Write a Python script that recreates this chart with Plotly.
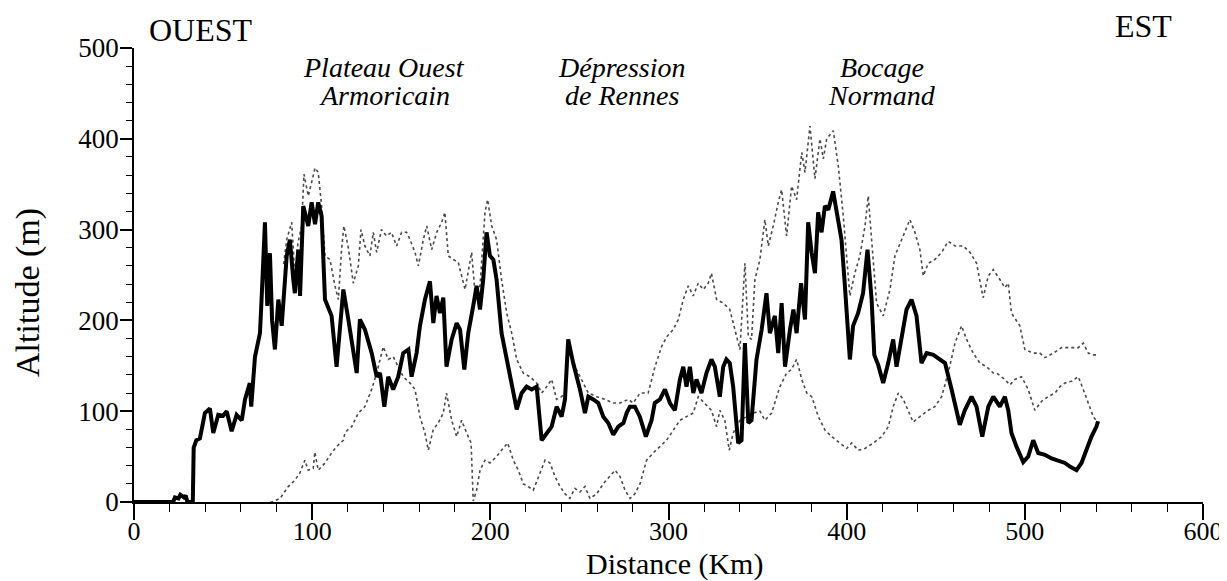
import plotly.graph_objects as go

# profil principal (trait épais)
main_km = [0, 20, 22, 23, 25, 26, 28, 29, 30, 33, 33.5, 35, 37, 39.8, 42.6, 44.5, 47.3, 50, 52, 54.8,
           57.6, 60.5, 62.3, 65, 65.8, 67.9, 70.7, 71.6, 73.5, 74.8, 76.3, 77.5, 79.1, 81, 82.9, 85.7,
           87.5, 89.4, 90.3, 92.2, 93.2, 95, 97.8, 99.7, 101.6, 103.4, 105.3, 107.2, 110.9, 113.7,
           115.6, 117.5, 120.3, 123.1, 125, 126.8, 129.6, 133.4, 136.2, 138.1, 140.5, 142.7, 145.5,
           148.3, 151.1, 154, 155.8, 158.6, 160.5, 163.3, 166.1, 168, 169.8, 171.7, 173.6, 175.4,
           178.3, 181.1, 183, 185.4, 187.6, 190.4, 192.3, 194.2, 196, 197.9, 199.8, 201.7, 203.5,
           206.3, 209.1, 212, 214.8, 217.6, 220.4, 223.2, 226, 228.8, 231.6, 234.4, 237.2, 240,
           241.9, 243.7, 246.5, 250.3, 253.1, 255, 257.8, 260.6, 263.4, 266.2, 269, 271.8, 274.7,
           276.5, 278.3, 281.1, 283.9, 287.3, 290.5, 292.3, 295.2, 298, 300.8, 303.6, 306.4, 308.3,
           310.1, 312, 313.9, 315.7, 318.5, 321.3, 324.1, 326, 328.8, 330.7, 332.5, 334.4, 336.3,
           339.1, 341, 342.9, 344.8, 346.6, 349.4, 352.3, 355, 356.9, 359.7, 361.6, 363.5, 365.4,
           368.2, 370.1, 371.9, 374.4, 376.6, 378.4, 380.3, 382.2, 384, 385.9, 387.8, 389.7, 392.4,
           394.3, 397.1, 398.9, 401.8, 403.6, 406.4, 409.2, 411.7, 414, 415.5, 417.7, 420.5, 423.3,
           426.1, 428, 430.8, 433.6, 436.4, 439.2, 442, 444.9, 448.6, 452.3, 455.2, 458.9, 463.5,
           466.3, 470.1, 472.9, 476.1, 479.5, 482.3, 486, 488.8, 490.7, 492.5, 495.3, 499.1, 501.9,
           504.7, 507.5, 511.3, 515, 518.8, 522.5, 525.3, 529, 531.8, 534.6, 537.4, 540.2, 541.1]
main_alt = [0, 0, 0, 5, 4, 8, 5, 7, 0, 0, 60, 68, 70, 98, 103, 76, 96, 95, 100, 78,
            96, 90, 113, 131, 105, 160, 186, 223, 308, 216, 274, 200, 168, 223, 194, 271,
            289, 245, 230, 278, 227, 326, 304, 330, 306, 330, 315, 223, 205, 149,
            186, 234, 201, 168, 142, 201, 190, 164, 138, 142, 105, 138, 124,
            138, 164, 168, 138, 164, 194, 223, 243, 197, 227, 208, 225, 149,
            179, 197, 190, 146, 186, 216, 238, 212, 245, 297, 271, 267, 245,
            186, 157, 131, 102, 120, 127, 124, 127, 68, 76, 83, 105, 94,
            113, 179, 153, 124, 98, 116, 113, 109, 94, 87, 74, 83, 87,
            98, 105, 105, 94, 72, 90, 109, 113, 124, 109, 101, 135, 149,
            127, 149, 120, 135, 120, 142, 157, 149, 116, 149, 157, 153, 127,
            65, 68, 175, 87, 90, 157, 190, 230, 186, 205, 164, 219, 149,
            190, 212, 186, 241, 201, 308, 275, 252, 319, 297, 326, 322, 342,
            322, 289, 241, 157, 194, 208, 230, 278, 223, 162, 151, 131, 153,
            179, 149, 179, 212, 223, 205, 153, 164, 162, 157, 153, 124, 85,
            101, 116, 105, 72, 105, 116, 105, 116, 101, 76, 61, 44, 50,
            68, 54, 52, 48, 46, 43, 39, 35, 43, 57, 72, 83, 89]

# altitudes maximales (pointillé haut)
max_km = [84, 85.7, 88.5, 90.3, 92, 94.1, 95.4, 97.8, 99.7, 101.6, 103.4, 105.3, 107.2, 110, 112.8,
          114.7, 116.5, 117.8, 120.3, 123.1, 125.9, 127.4, 129.6, 132.4, 134.3, 136.2, 138.9, 141.7,
          144.5, 147.4, 150.2, 153, 154.9, 157.7, 159.6, 162.4, 164.3, 167.1, 169.9, 172.7, 174.5,
          176.4, 179.2, 182, 185.8, 189.5, 191.4, 194.2, 197, 198.5, 200.8, 203.5, 206.3, 209.2,
          212, 214.8, 218.5, 222.2, 226, 228.8, 231.6, 234.4, 237.2, 240, 241.9, 243.7, 247.5,
          250.3, 255, 259.7, 264.4, 269, 272.8, 277.5, 280.2, 284, 288.6, 292.4, 296.1, 299, 302.7,
          305.5, 308.3, 311.1, 313.9, 316.7, 319.5, 322.3, 324.1, 327, 330.7, 334.4, 337.2, 340.1,
          342.9, 344.8, 346.6, 348.5, 351.3, 354.1, 356, 358.8, 361.6, 363.5, 366.3, 369.1, 371.9,
          374.8, 376.6, 379.4, 382.2, 385, 386.9, 388.8, 392.5, 395.3, 398.1, 400, 401.8, 404.6,
          407.4, 410.3, 412.1, 414, 416.8, 420.5, 424.3, 427.1, 430.8, 435.5, 438.3, 441.1, 443,
          445.8, 449.5, 453.3, 457, 460.8, 465.4, 469.2, 472.9, 476.6, 479.5, 482.3, 486, 488.8,
          490.7, 492.5, 497.2, 500, 504.7, 508.4, 511.3, 516, 520.6, 525.3, 530, 532.8, 535.6,
          538.4, 541.2]
max_alt = [262, 289, 308, 249, 285, 304, 361, 337, 352, 368, 363, 326, 271, 267, 238,
           223, 278, 304, 280, 241, 260, 300, 282, 271, 297, 275, 300, 293,
           297, 282, 297, 297, 289, 275, 260, 289, 304, 278, 297, 308, 319,
           271, 267, 264, 234, 275, 230, 238, 319, 333, 304, 289, 245, 208,
           186, 157, 142, 138, 131, 120, 127, 135, 113, 116, 120, 179, 149,
           138, 120, 116, 113, 109, 109, 113, 109, 120, 120, 149, 171, 182, 190,
           201, 223, 238, 227, 241, 234, 241, 252, 223, 219, 212, 190, 168,
           263, 182, 179, 245, 267, 311, 282, 304, 330, 344, 293, 348, 333,
           385, 363, 414, 356, 400, 378, 400, 409, 370, 315, 267, 227, 252,
           271, 304, 337, 289, 219, 205, 234, 271, 289, 311, 297, 278, 249,
           263, 267, 275, 287, 282, 282, 275, 263, 225, 249, 256, 245, 236,
           241, 208, 194, 168, 164, 164, 159, 164, 170, 170, 170, 175, 164,
           162, 162]

# altitudes minimales (pointillé bas)
min_km = [76.5, 77.4, 82, 86.6, 90.3, 93.1, 95.9, 97.8, 100.6, 101.5, 103.4, 107.2, 110.9, 113.7,
          117.5, 118.4, 120.3, 122.2, 125.9, 129.6, 133.4, 136.2, 139.9, 142.7, 145.5, 148.3, 151.1,
          154.9, 157.7, 160.5, 163.3, 165.2, 168, 170.8, 173.6, 175.4, 178.3, 181.1, 183.9, 186.7,
          189.2, 190.4, 192.3, 194.2, 197, 199.8, 203.5, 206.3, 209.7, 212.9, 215.7, 218.5, 221.3,
          224.1, 226.9, 230.7, 233.5, 236.3, 239.1, 241.9, 244.6, 247.5, 250.3, 253.1, 255.9, 259.7,
          263.4, 267.2, 270, 272.8, 275.6, 278.4, 281.1, 284, 287.7, 291.4, 295.2, 298.9, 302.7,
          306.4, 310.1, 313.9, 316.7, 320.4, 324.1, 327, 328.8, 331.6, 334.1, 336.3, 340.1, 343.8,
          347.6, 351.3, 354.1, 357.9, 361.6, 362.5, 366.3, 369.1, 371.9, 374.8, 377.6, 380.4, 384.1,
          387.9, 391.6, 396.3, 400, 402.8, 406.5, 410.3, 415, 419.6, 423.4, 426.1, 429, 431.8,
          434.5, 437.3, 441.1, 445.8, 449.5, 453.3, 457, 460.8, 464.5, 467.3, 471, 474.8, 478.5,
          482.3, 484.1, 488.8, 491.6, 494.4, 498.1, 501.9, 505.6, 509.4, 513.1, 516.9, 519.7, 522.5,
          526.2, 530, 532.8, 535.6, 538.4, 541.2]
min_alt = [0, 0, 4, 17, 24, 32, 46, 35, 37, 55, 35, 43, 54, 61,
           68, 76, 80, 83, 98, 105, 124, 142, 171, 157, 160, 149, 138,
           131, 124, 94, 76, 57, 80, 87, 98, 120, 90, 72, 90, 76,
           65, 1, 13, 35, 46, 43, 50, 57, 65, 46, 35, 20, 17,
           13, 28, 46, 43, 28, 17, 9, 4, 15, 11, 17, 4, 9,
           20, 28, 35, 28, 13, 4, 9, 20, 46, 54, 61, 68, 79,
           90, 94, 98, 116, 109, 101, 83, 101, 90, 57, 76, 90, 94,
           98, 100, 90, 98, 120, 127, 142, 146, 157, 135, 120, 116, 94,
           79, 72, 65, 59, 65, 57, 59, 65, 72, 83, 105, 120, 113,
           101, 88, 94, 101, 105, 116, 142, 175, 194, 179, 164, 153, 149,
           142, 142, 135, 129, 135, 138, 124, 101, 111, 116, 120, 127, 131,
           133, 138, 124, 109, 94, 87]

x_ticks = [0, 100, 200, 300, 400, 500, 600]
y_ticks = [0, 100, 200, 300, 400, 500]

serif = "Liberation Serif"

fig = go.Figure()
fig.add_trace(go.Scatter(x=max_km, y=max_alt, mode="lines",
                         line=dict(color="#4a4a4a", width=1.6, dash="dot")))
fig.add_trace(go.Scatter(x=min_km, y=min_alt, mode="lines",
                         line=dict(color="#4a4a4a", width=1.6, dash="dot")))
fig.add_trace(go.Scatter(x=main_km, y=main_alt, mode="lines",
                         line=dict(color="black", width=4)))

# régions (italique, en coordonnées des données)
regions = [
    ("Plateau Ouest", 140.5, 479),
    ("Armoricain", 140.5, 448),
    ("Dépression", 274, 479),
    ("de Rennes", 274, 448),
    ("Bocage", 420, 479),
    ("Normand", 420, 448),
]
for txt, xk, ya in regions:
    fig.add_annotation(x=xk, y=ya, xref="x", yref="y", text=txt, showarrow=False,
                       xanchor="center", yanchor="middle",
                       font=dict(family=serif, size=28, color="black", style="italic"))

# textes hors du cadre (coordonnées papier)
outside = [
    ("OUEST", 0.0627, 1.0396, 0, 32),
    ("EST", 0.9439, 1.0485, 0, 32),
    ("Altitude (m)", -0.0992, 0.4626, -90, 34),
    ("Distance (Km)", 0.5055, -0.136, 0, 30),
]
for txt, xp, yp, ang, size in outside:
    fig.add_annotation(x=xp, y=yp, xref="paper", yref="paper", text=txt, showarrow=False,
                       textangle=ang, xanchor="center", yanchor="middle",
                       font=dict(family=serif, size=size, color="black"))

fig.update_layout(
    width=1219, height=573,
    margin=dict(l=126, r=24, t=40, b=79, autoexpand=False),
    paper_bgcolor="white", plot_bgcolor="white",
    showlegend=False,
    font=dict(family=serif, color="black"),
)
fig.update_xaxes(
    range=[0, 600], tickvals=x_ticks, showgrid=False, zeroline=False,
    showline=True, linecolor="black", linewidth=2,
    ticks="outside", ticklen=16, tickwidth=1.5, tickcolor="black",
    ticklabelstandoff=-11,
    tickfont=dict(family=serif, size=26, color="black"),
    minor=dict(dtick=20, ticks="outside", ticklen=8, tickwidth=1.2, tickcolor="black"),
)
fig.update_yaxes(
    range=[0, 500], tickvals=y_ticks, showgrid=False, zeroline=False,
    showline=True, linecolor="black", linewidth=1.5,
    ticks="outside", ticklen=12, tickwidth=1.5, tickcolor="black",
    ticklabelstandoff=-4,
    tickfont=dict(family=serif, size=27, color="black"),
    minor=dict(dtick=20, ticks="outside", ticklen=6, tickwidth=1.2, tickcolor="black"),
)

fig.write_html("out.html")
